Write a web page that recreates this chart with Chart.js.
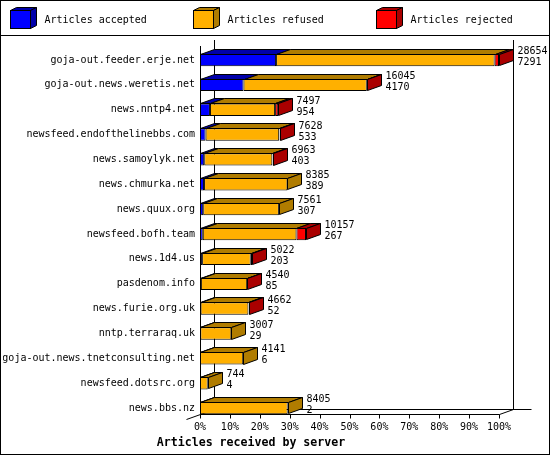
<!DOCTYPE html>
<html>
<head>
<meta charset="utf-8">
<script src="https://cdn.jsdelivr.net/npm/chart.js@4.4.1/dist/chart.umd.min.js"></script>
<style>
html, body { margin: 0; padding: 0; background: #fff; }
canvas { display: block; }
</style>
</head>
<body>
<canvas id="chart" width="550" height="455"></canvas>
<script>
const servers = [
  "goja-out.feeder.erje.net",
  "goja-out.news.weretis.net",
  "news.nntp4.net",
  "newsfeed.endofthelinebbs.com",
  "news.samoylyk.net",
  "news.chmurka.net",
  "news.quux.org",
  "newsfeed.bofh.team",
  "news.1d4.us",
  "pasdenom.info",
  "news.furie.org.uk",
  "nntp.terraraq.uk",
  "goja-out.news.tnetconsulting.net",
  "newsfeed.dotsrc.org",
  "news.bbs.nz"
];
const totals   = [28654, 16045, 7497, 7628, 6963, 8385, 7561, 10157, 5022, 4540, 4662, 3007, 4141, 744, 8405];
const accepted = [7291, 4170, 954, 533, 403, 389, 307, 267, 203, 85, 52, 29, 6, 4, 2];
const refused  = [20943, 11815, 6243, 7055, 6530, 7996, 7254, 8980, 4659, 4435, 4590, 2978, 4135, 740, 8403];
const rejected = [420, 60, 300, 40, 30, 0, 0, 910, 160, 20, 20, 0, 0, 0, 0];
const tickLabels = ["0%", "10%", "20%", "30%", "40%", "50%", "60%", "70%", "80%", "90%", "100%"];

const seriesNames = ["Articles accepted", "Articles refused", "Articles rejected"];
const colors = ["#0000FF", "#FFB000", "#FF0000"];
const shades = ["#0000AA", "#B07C00", "#AA0000"];

const DX = 14, DY = 5;
const MONO = "'DejaVu Sans Mono', 'Liberation Mono', monospace";

Chart.defaults.font.family = MONO;
Chart.defaults.font.size = 10;
Chart.defaults.color = "#000";

const px = v => Math.round(v) + 0.5;

function poly(ctx, pts, fill) {
  ctx.beginPath();
  ctx.moveTo(pts[0][0], pts[0][1]);
  for (let k = 1; k < pts.length; k++) ctx.lineTo(pts[k][0], pts[k][1]);
  ctx.closePath();
  ctx.fillStyle = fill;
  ctx.fill();
  ctx.stroke();
}

// back wall, floor and axis lines behind the bars
const wallPlugin = {
  id: "wall",
  beforeDatasetsDraw(chart) {
    const { ctx, chartArea, scales } = chart;
    const x0 = px(scales.x.getPixelForValue(scales.x.min));
    const x1 = px(scales.x.getPixelForValue(scales.x.max));
    const lastBar = chart.getDatasetMeta(0).data[servers.length - 1];
    const floor = Math.round(lastBar.y + lastBar.height / 2) + 0.5;
    const top = Math.round(chartArea.top);
    ctx.save();
    ctx.strokeStyle = "#000";
    ctx.lineWidth = 1;
    ctx.beginPath();
    ctx.moveTo(x0 + DX, top - 8);  ctx.lineTo(x0 + DX, floor - DY);
    ctx.moveTo(x1 + DX, top - 8);  ctx.lineTo(x1 + DX, floor - DY);
    ctx.moveTo(x0 + DX, floor - DY); ctx.lineTo(x1 + DX + 18, floor - DY);
    ctx.moveTo(x0, top - 2); ctx.lineTo(x0, floor);
    ctx.lineTo(x1, floor);
    ctx.lineTo(x1 + DX, floor - DY);
    ctx.moveTo(x0 - DX, floor + DY); ctx.lineTo(x0 + DX, floor - DY);
    scales.x.ticks.forEach(t => {
      const tx = px(scales.x.getPixelForValue(t.value));
      ctx.moveTo(tx, floor); ctx.lineTo(tx, floor + 4);
    });
    ctx.stroke();
    ctx.restore();
  }
};

// top and side faces plus the two value labels
const depthPlugin = {
  id: "depth",
  afterDatasetsDraw(chart) {
    const { ctx } = chart;
    const series = chart.data.datasets;
    ctx.save();
    ctx.strokeStyle = "#000";
    ctx.lineWidth = 1;
    for (let i = 0; i < servers.length; i++) {
      let lastD = -1;
      series.forEach((ds, d) => { if (ds.data[i] > 0) lastD = d; });
      let endX = 0, t = 0, b = 0, cy = 0;
      series.forEach((ds, d) => {
        const el = chart.getDatasetMeta(d).data[i];
        const l = px(Math.min(el.base, el.x));
        const r = px(Math.max(el.base, el.x));
        t = px(el.y - el.height / 2);
        b = px(el.y + el.height / 2) - 1;
        cy = el.y;
        if (ds.data[i] > 0) {
          poly(ctx, [[l, t], [r, t], [r + DX, t - DY], [l + DX, t - DY]], shades[d]);
        }
        if (d === lastD) {
          poly(ctx, [[r, t], [r + DX, t - DY], [r + DX, b - DY], [r, b]], shades[d]);
          endX = r;
        }
      });
      ctx.fillStyle = "#000";
      ctx.font = "10px " + MONO;
      ctx.textAlign = "left";
      ctx.textBaseline = "middle";
      ctx.fillText(String(totals[i]), endX + DX + 4, cy - 8.5);
      ctx.fillText(String(accepted[i]), endX + DX + 4, cy + 2.5);
    }
    ctx.restore();
  }
};

// frame and 3D legend boxes
const framePlugin = {
  id: "frame",
  afterDraw(chart) {
    const { ctx, width, height } = chart;
    ctx.save();
    ctx.strokeStyle = "#000";
    ctx.lineWidth = 1;
    ctx.strokeRect(0.5, 0.5, width - 1, height - 1);
    ctx.beginPath();
    ctx.moveTo(0, 35.5); ctx.lineTo(width, 35.5);
    ctx.stroke();
    seriesNames.forEach((name, k) => {
      const bx = 10.5 + 183 * k, by = 10.5, w = 20, h = 18, dx = 6, dy = 3;
      poly(ctx, [[bx, by], [bx + dx, by - dy], [bx + w + dx, by - dy], [bx + w, by]], shades[k]);
      poly(ctx, [[bx + w, by], [bx + w + dx, by - dy], [bx + w + dx, by + h - dy], [bx + w, by + h]], shades[k]);
      ctx.fillStyle = colors[k];
      ctx.fillRect(bx, by, w, h);
      ctx.strokeRect(bx, by, w, h);
      ctx.fillStyle = "#000";
      ctx.font = "10px " + MONO;
      ctx.textAlign = "left";
      ctx.textBaseline = "middle";
      ctx.fillText(name, bx + 34, 20);
    });
    ctx.restore();
  }
};

const maxTotal = Math.max(...totals);

new Chart(document.getElementById("chart"), {
  type: "bar",
  data: {
    labels: servers,
    datasets: [accepted, refused, rejected].map((values, d) => ({
      label: seriesNames[d],
      data: values,
      backgroundColor: colors[d],
      borderColor: "#000",
      borderWidth: 1,
      borderSkipped: false,
      barPercentage: 0.5,
      categoryPercentage: 1
    }))
  },
  options: {
    indexAxis: "y",
    responsive: false,
    animation: false,
    devicePixelRatio: 1,
    layout: { padding: { left: 3, right: 51, top: 47.5, bottom: 4.6 } },
    scales: {
      x: {
        stacked: true,
        min: 0,
        max: maxTotal,
        grid: { display: false, drawTicks: false },
        border: { display: false },
        afterBuildTicks: scale => {
          scale.ticks = tickLabels.map((_, i) => ({ value: maxTotal * i / 10 }));
        },
        afterFit: scale => { scale.height = 13; },
        ticks: {
          autoSkip: false,
          maxRotation: 0,
          padding: 1,
          font: { size: 10 },
          callback: (v, i) => tickLabels[i]
        }
      },
      y: {
        stacked: true,
        grid: { display: false, drawTicks: false },
        border: { display: false },
        afterFit: scale => { scale.width = 197; },
        ticks: { padding: 5, font: { size: 10 }, autoSkip: false }
      }
    },
    plugins: {
      legend: { display: false },
      tooltip: { enabled: false },
      title: {
        display: true,
        position: "bottom",
        text: "Articles received by server",
        font: { size: 11.6, weight: "bold", family: MONO },
        color: "#000",
        padding: { top: 3, bottom: 0 }
      }
    }
  },
  plugins: [wallPlugin, depthPlugin, framePlugin]
});
</script>
</body>
</html>
